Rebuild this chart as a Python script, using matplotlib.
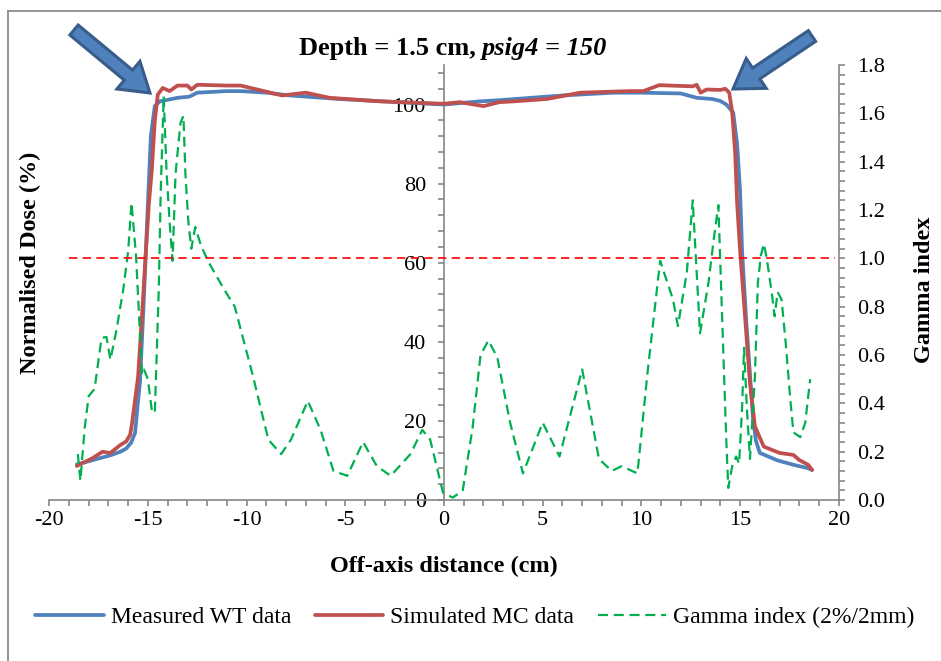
import matplotlib
matplotlib.use("Agg")
import matplotlib.pyplot as plt
from matplotlib.patches import FancyArrow
from matplotlib.lines import Line2D
from matplotlib.ticker import MultipleLocator, FixedLocator, FuncFormatter
from matplotlib.transforms import IdentityTransform

# ---------------- data ----------------
measured_x = [-18.6, -18.0, -17.5, -16.9, -16.4, -16.1, -15.85, -15.65, -15.5, -15.4,
              -15.25, -15.1, -15.0, -14.85, -14.65, -14.4, -14.0, -13.5, -12.9, -12.5,
              -11.0, -10.3, -9.0, -7.8, -5.3, -2.7, 0.0, 1.8, 2.8, 6.0,
              8.6, 10.0, 12.0, 12.8, 13.6, 14.0, 14.3, 14.65, 14.85, 15.0,
              15.1, 15.3, 15.65, 15.8, 16.0, 16.9, 17.7, 18.4, 18.65]
measured_dose = [9.0, 9.8, 10.5, 11.3, 12.2, 13.0, 14.5, 17.0, 25.0, 30.0,
                 46.0, 63.0, 75.0, 92.0, 99.6, 100.8, 101.2, 101.7, 102.0, 103.0,
                 103.4, 103.4, 103.0, 102.3, 101.4, 100.7, 100.0, 100.8, 101.1, 102.3,
                 103.0, 103.0, 102.8, 101.7, 101.4, 100.9, 100.0, 98.0, 90.0, 78.0,
                 63.0, 46.0, 21.0, 15.0, 11.9, 10.0, 8.9, 8.1, 7.6]

simulated_x = [-18.6, -17.8, -17.3, -16.9, -16.4, -16.1, -15.9, -15.8, -15.5, -15.25,
               -15.1, -14.95, -14.8, -14.65, -14.5, -14.25, -13.9, -13.5, -13.0, -12.8,
               -12.5, -11.0, -10.3, -8.2, -7.0, -5.8, -3.2, 0.0, 0.8, 2.0,
               2.8, 3.5, 5.2, 6.9, 9.4, 10.1, 10.9, 12.6, 12.8, 13.0,
               13.3, 14.0, 14.25, 14.45, 14.6, 14.75, 14.85, 15.0, 15.25, 15.5,
               15.75, 16.2, 17.0, 17.7, 18.0, 18.45, 18.65]
simulated_dose = [8.6, 10.6, 12.2, 11.9, 13.9, 14.8, 16.5, 19.5, 31.0, 50.6,
                  63.0, 75.0, 83.5, 96.0, 102.5, 104.2, 103.4, 104.8, 104.8, 103.8,
                  105.0, 104.8, 104.8, 102.3, 103.0, 101.7, 100.8, 100.2, 100.6, 99.6,
                  100.6, 100.8, 101.4, 103.0, 103.4, 103.4, 104.9, 104.6, 105.0, 103.0,
                  103.8, 103.7, 104.0, 103.0, 98.0, 87.8, 75.0, 63.0, 46.4, 29.6,
                  18.6, 13.5, 11.9, 11.4, 10.1, 8.9, 7.6]

gamma_x = [-18.55, -18.42, -18.2, -18.0, -17.7, -17.35, -17.1, -16.9, -16.6, -16.25,
           -16.0, -15.83, -15.6, -15.3, -15.2, -15.0, -14.8, -14.65, -14.45, -14.35,
           -14.2, -14.05, -13.9, -13.75, -13.6, -13.35, -13.2, -13.1, -12.95, -12.8,
           -12.6, -12.3, -11.9, -11.2, -10.6, -9.7, -8.9, -8.25, -7.75, -6.9,
           -6.25, -5.6, -4.9, -4.1, -3.4, -2.7, -1.7, -1.1, -0.7, -0.05,
           0.45, 0.95, 1.45, 1.85, 2.25, 2.7, 3.35, 4.0, 5.0, 5.85,
           7.0, 7.85, 8.5, 9.0, 9.8, 10.3, 10.95, 11.6, 11.85, 12.3,
           12.6, 12.97, 13.4, 13.65, 13.9, 14.1, 14.3, 14.4, 14.6, 14.8,
           14.95, 15.1, 15.2, 15.35, 15.5, 15.75, 15.9, 16.05, 16.2, 16.35,
           16.6, 16.75, 16.9, 17.1, 17.3, 17.55, 17.7, 18.05, 18.3, 18.55]
gamma_val = [0.19, 0.08, 0.30, 0.43, 0.46, 0.67, 0.675, 0.58, 0.70, 0.87,
             1.03, 1.23, 1.01, 0.52, 0.54, 0.50, 0.37, 0.36, 0.87, 1.28,
             1.67, 1.35, 1.15, 0.99, 1.35, 1.56, 1.59, 1.35, 1.15, 1.04,
             1.13, 1.05, 0.98, 0.88, 0.80, 0.52, 0.25, 0.19, 0.25, 0.41,
             0.29, 0.12, 0.10, 0.24, 0.14, 0.10, 0.19, 0.29, 0.25, 0.03,
             0.01, 0.04, 0.30, 0.60, 0.66, 0.59, 0.32, 0.11, 0.32, 0.18,
             0.54, 0.17, 0.12, 0.14, 0.11, 0.52, 0.99, 0.83, 0.72, 0.94,
             1.24, 0.69, 0.90, 1.07, 1.22, 0.73, 0.25, 0.05, 0.14, 0.18,
             0.15, 0.38, 0.63, 0.37, 0.17, 0.51, 0.90, 1.01, 1.06, 1.00,
             0.86, 0.76, 0.86, 0.83, 0.66, 0.41, 0.28, 0.26, 0.32, 0.50]

threshold_x = [-19.0, 19.8]
threshold_val = [1.0, 1.0]

x_ticks = [-20, -15, -10, -5, 0, 5, 10, 15, 20]
dose_ticks = [0, 20, 40, 60, 80, 100]
gamma_ticks = [0.0, 0.2, 0.4, 0.6, 0.8, 1.0, 1.2, 1.4, 1.6, 1.8]

# ---------------- style ----------------
plt.rcParams["font.family"] = ["Liberation Serif", "DejaVu Serif"]
plt.rcParams["axes.unicode_minus"] = False

W, H = 941, 661
BLUE = "#4F81BD"
RED = "#C0504D"
GREEN = "#00B050"
GRID = "#868686"

fig = plt.figure(figsize=(W / 100, H / 100), dpi=100)
fig.patch.set_facecolor("white")

ax = fig.add_axes([49.2 / W, (H - 500) / H, 789.6 / W, 435 / H])
ax.set_xlim(-20, 20)
ax.set_ylim(0, 110)

ax2 = ax.twinx()
ax2.set_ylim(0, 1.8)

# profiles
ax.plot(measured_x, measured_dose, color=BLUE, lw=2.7, solid_joinstyle="round",
        solid_capstyle="round", label="Measured WT data", zorder=3)
ax.plot(simulated_x, simulated_dose, color=RED, lw=2.7, solid_joinstyle="round",
        solid_capstyle="round", label="Simulated MC data", zorder=4)

# gamma index and pass threshold
ax2.plot(gamma_x, gamma_val, color=GREEN, lw=1.6, dashes=(4.5, 2.6),
         label="Gamma index (2%/2mm)", zorder=5)
ax2.plot(threshold_x, threshold_val, color="#FF0000", lw=1.2, dashes=(5, 3.2), zorder=6)

# spines
for s in ["top", "right"]:
    ax.spines[s].set_visible(False)
ax.spines["left"].set_position(("data", 0))
ax.spines["left"].set_color(GRID)
ax.spines["bottom"].set_color(GRID)
ax.spines["left"].set_linewidth(1.2)
ax.spines["bottom"].set_linewidth(1.2)
for s in ["top", "left", "bottom"]:
    ax2.spines[s].set_visible(False)
ax2.spines["right"].set_color(GRID)
ax2.spines["right"].set_linewidth(1.2)

# ticks
ax.xaxis.set_major_locator(FixedLocator(x_ticks))
ax.xaxis.set_minor_locator(MultipleLocator(1))
ax.xaxis.set_major_formatter(FuncFormatter(lambda v, p: "%d" % round(v)))
ax.yaxis.set_major_locator(FixedLocator(dose_ticks))
ax.yaxis.set_minor_locator(MultipleLocator(4))
ax.yaxis.set_major_formatter(FuncFormatter(lambda v, p: "%d" % round(v)))
ax2.yaxis.set_major_locator(FixedLocator(gamma_ticks))
ax2.yaxis.set_minor_locator(MultipleLocator(0.04))
ax2.yaxis.set_major_formatter(FuncFormatter(lambda v, p: "%.1f" % v))

for a in (ax, ax2):
    a.tick_params(which="both", direction="out", length=4, width=1.2, color=GRID,
                  labelsize=16, labelcolor="black")
ax.tick_params(axis="x", pad=4)
ax.tick_params(axis="y", pad=9)
ax2.tick_params(axis="y", pad=9)
ax.set_facecolor("none")

# axis titles
fig.text(30 / W, (H - 263) / H, "Normalised Dose (%)", rotation=90, fontsize=17.5,
         fontweight="bold", ha="center", va="center")
fig.text(924 / W, (H - 290) / H, "Gamma index", rotation=90, fontsize=17.5,
         fontweight="bold", ha="center", va="center")
fig.text(444 / W, (H - 566) / H, "Off-axis distance (cm)", fontsize=17.5,
         fontweight="bold", ha="center", va="center")

# title: bold part followed by bold-italic part
renderer = fig.canvas.get_renderer()
t1 = fig.text(0, 0, "Depth = 1.5 cm,", fontsize=19, fontweight="bold")
t2 = fig.text(0, 0, "psig4 = 150", fontsize=19, fontweight="bold", style="italic")
w1 = t1.get_window_extent(renderer).width
w2 = t2.get_window_extent(renderer).width
gap = 0.25 * 19 * 100 / 72
x0 = 453 - (w1 + gap + w2) / 2
yb = (H - 55) / H
t1.set_position((x0 / W, yb))
t2.set_position(((x0 + w1 + gap) / W, yb))
t1.set_va("baseline")
t2.set_va("baseline")

# block arrows pointing at the field shoulders
def block_arrow(x0p, y0p, x1p, y1p):
    arr = FancyArrow(x0p, H - y0p, x1p - x0p, -(y1p - y0p), width=13, head_width=36,
                     head_length=28, length_includes_head=True,
                     facecolor=BLUE, edgecolor="#385D8A", linewidth=2.2,
                     transform=IdentityTransform(), zorder=10)
    fig.add_artist(arr)

block_arrow(74, 30, 150, 93)
block_arrow(812, 36, 733, 89)

# chart border (left and top edges)
fig.add_artist(Line2D([8, 8], [H - 11, -5], color="#8C8C8C", lw=1.3,
                      transform=IdentityTransform()))
fig.add_artist(Line2D([8, W + 5], [H - 11, H - 11], color="#8C8C8C", lw=1.3,
                      transform=IdentityTransform()))

# legend
h1, l1 = ax.get_legend_handles_labels()
h2, l2 = ax2.get_legend_handles_labels()
fig.legend(h1 + h2, l1 + l2, loc="center", bbox_to_anchor=(475 / W, (H - 617) / H),
           ncol=3, frameon=False, fontsize=17, handlelength=2.9, handletextpad=0.3,
           columnspacing=1.0)

fig.savefig("out.png", dpi=100, facecolor="white")
